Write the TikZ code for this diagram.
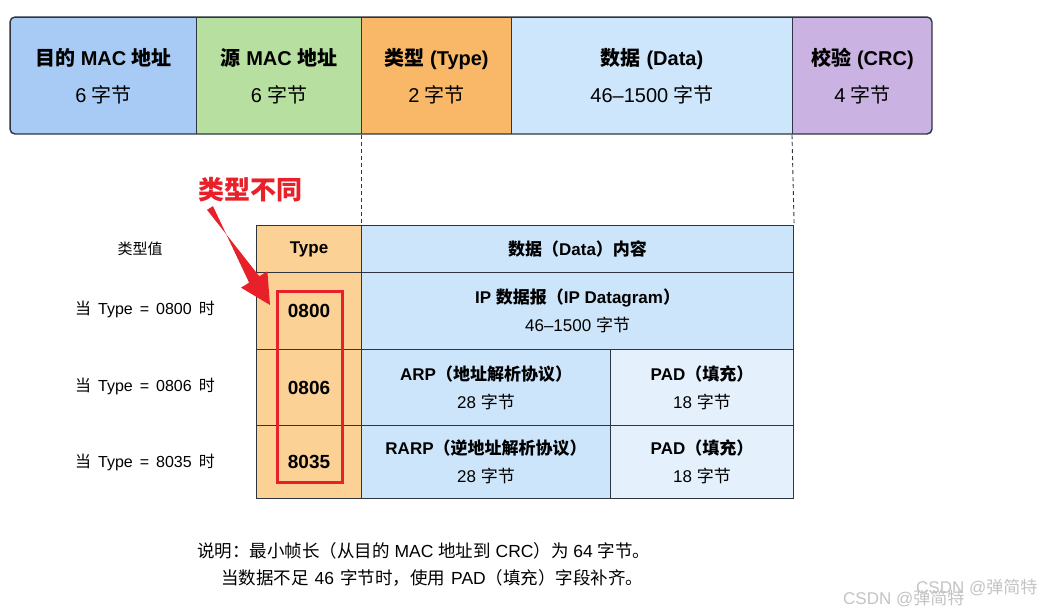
\documentclass[tikz,border=0pt]{standalone}
\usepackage{fontspec}
\setmainfont{Liberation Sans}
\newfontfamily\cjkfont{Noto Sans CJK SC}
\newcommand{\zh}[1]{{\cjkfont #1}}
\usetikzlibrary{calc,arrows.meta}
\definecolor{cdst}{HTML}{A8CBF5}
\definecolor{csrc}{HTML}{B7E0A0}
\definecolor{ctype}{HTML}{F8B868}
\definecolor{cdata}{HTML}{CDE6FB}
\definecolor{ccrc}{HTML}{CAB3E3}
\definecolor{ttype}{HTML}{FCD195}
\definecolor{tdata}{HTML}{CCE5FA}
\definecolor{tpad}{HTML}{E4F1FD}
\definecolor{bord}{HTML}{2E3440}
\definecolor{redc}{HTML}{E8202A}
\definecolor{wm}{HTML}{C4C4C4}
\tikzset{
  topcell/.style={draw=bord, line width=1.2pt, anchor=north west, inner sep=0pt, align=center,
    font=\fontsize{20}{37}\selectfont},
  tcell/.style={draw=bord, line width=1.1pt, anchor=north west, inner sep=0pt, align=center,
    font=\fontsize{17}{28}\selectfont},
  tval/.style={tcell, font=\fontsize{19}{22}\selectfont\bfseries},
  leftlbl/.style={font=\fontsize{16}{18}\selectfont, inner sep=0pt},
  notetxt/.style={font=\fontsize{17.5}{20}\selectfont, inner sep=0pt, anchor=west},
  wmark/.style={font=\fontsize{17}{20}\selectfont, text=wm, inner sep=0pt},
  dashln/.style={draw=bord, line width=0.9pt, dash pattern=on 4pt off 3pt}
}
\newcommand{\gapsp}{\hspace{7pt}}
\begin{document}
\begin{tikzpicture}[x=1pt,y=-1pt]
\useasboundingbox (0,0) rectangle (1059,609);
\fill[white] (0,0) rectangle (1059,609);

% top frame row
\begin{scope}
\clip[rounded corners=5pt] (10,17) rectangle (932,134);
\node[topcell, fill=cdst, minimum width=186pt, minimum height=117pt] (dst) at (10,17) {{\bfseries \zh{目的} MAC \zh{地址}}\\6 \zh{字节}};
\node[topcell, fill=csrc, minimum width=165pt, minimum height=117pt] (src) at (196,17) {{\bfseries \zh{源} MAC \zh{地址}}\\6 \zh{字节}};
\node[topcell, fill=ctype, minimum width=150pt, minimum height=117pt] (typ) at (361,17) {{\bfseries \zh{类型} (Type)}\\2 \zh{字节}};
\node[topcell, fill=cdata, minimum width=281pt, minimum height=117pt] (dat) at (511,17) {{\bfseries \zh{数据} (Data)}\\46–1500 \zh{字节}};
\node[topcell, fill=ccrc, minimum width=140pt, minimum height=117pt] (crc) at (792,17) {{\bfseries \zh{校验} (CRC)}\\4 \zh{字节}};
\end{scope}
\draw[draw=bord, line width=1.4pt, rounded corners=5pt] (10,17) rectangle (932,134);

% table
\node[tcell, fill=ttype, minimum width=105pt, minimum height=47pt] (thead) at (256,225) {\bfseries Type};
\node[tcell, fill=tdata, minimum width=432pt, minimum height=47pt] (dhead) at (361,225) {\bfseries \zh{数据（}Data\zh{）内容}};
\node[tval, fill=ttype, minimum width=105pt, minimum height=77pt] (t1) at (256,272) {0800};
\node[tcell, fill=tdata, minimum width=432pt, minimum height=77pt] (d1) at (361,272) {{\bfseries IP \zh{数据报（}IP Datagram\zh{）}}\\46–1500 \zh{字节}};
\node[tval, fill=ttype, minimum width=105pt, minimum height=76pt] (t2) at (256,349) {0806};
\node[tcell, fill=tdata, minimum width=249pt, minimum height=76pt] (d2) at (361,349) {{\bfseries ARP\zh{（地址解析协议）}}\\28 \zh{字节}};
\node[tcell, fill=tpad, minimum width=183pt, minimum height=76pt] (p2) at (610,349) {{\bfseries PAD\zh{（填充）}}\\18 \zh{字节}};
\node[tval, fill=ttype, minimum width=105pt, minimum height=73pt] (t3) at (256,425) {8035};
\node[tcell, fill=tdata, minimum width=249pt, minimum height=73pt] (d3) at (361,425) {{\bfseries RARP\zh{（逆地址解析协议）}}\\28 \zh{字节}};
\node[tcell, fill=tpad, minimum width=183pt, minimum height=73pt] (p3) at (610,425) {{\bfseries PAD\zh{（填充）}}\\18 \zh{字节}};

% dashed guides
\draw[dashln] (typ.south west) -- (dhead.north west);
\draw[dashln] (crc.south west) -- (dhead.north east);

% left labels
\node[leftlbl, font=\fontsize{15}{18}\selectfont] (lv) at (140,249) {\zh{类型值}};
\node[leftlbl] (l1) at (145,309) {\zh{当}\gapsp Type\gapsp=\gapsp 0800\gapsp\zh{时}};
\node[leftlbl] (l2) at (145,386) {\zh{当}\gapsp Type\gapsp=\gapsp 0806\gapsp\zh{时}};
\node[leftlbl] (l3) at (145,462) {\zh{当}\gapsp Type\gapsp=\gapsp 8035\gapsp\zh{时}};

% red highlight
\node[draw=redc, line width=2.8pt, minimum width=65pt, minimum height=191pt, anchor=north west, inner sep=0pt] (redbox) at (276,290) {};
\node[text=redc, font=\fontsize{26}{30}\selectfont\bfseries, inner sep=0pt] (diff) at (250,190) {\zh{类型不同}};
\coordinate (as) at (210,208);
\coordinate (at) at (270,305);
\coordinate (hb) at ($(at)!30pt!(as)$);
\fill[redc] ($(as)!3.5pt!90:(at)$) -- ($(hb)!6pt!-90:(at)$) -- ($(hb)!15.5pt!-90:(at)$) -- (at)
  -- ($(hb)!15.5pt!90:(at)$) -- ($(hb)!6pt!90:(at)$) -- ($(as)!3.5pt!-90:(at)$) -- cycle;

% note
\node[notetxt] (n1) at (197,551) {\zh{说明：最小帧长（从目的} MAC \zh{地址到} CRC\zh{）为} 64 \zh{字节。}};
\node[notetxt] (n2) at (221,578) {\zh{当数据不足}\hspace{6pt}46\hspace{6pt}\zh{字节时，使用}\hspace{6pt}PAD\zh{（填充）字段补齐。}};

% watermark
\node[wmark, anchor=west] (w1) at (843,599) {CSDN @\zh{弹简特}};
\node[wmark, anchor=west] (w2) at (916,588) {CSDN @\zh{弹简特}};
\end{tikzpicture}
\end{document}
